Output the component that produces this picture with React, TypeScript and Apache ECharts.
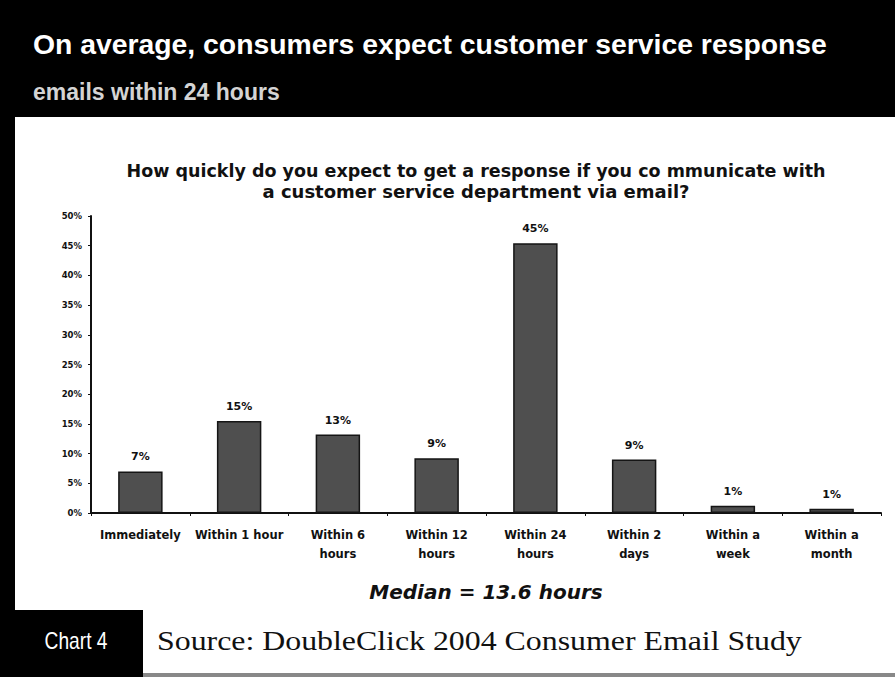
import React, { useEffect, useRef } from "react";
import * as echarts from "echarts";

const categories = [
  "Immediately",
  "Within 1 hour",
  "Within 6\nhours",
  "Within 12\nhours",
  "Within 24\nhours",
  "Within 2\ndays",
  "Within a\nweek",
  "Within a\nmonth",
];
const values = [7, 15, 13, 9, 45, 9, 1, 1];
const barHeights = [7, 15.5, 13.2, 9.2, 45.4, 9, 1.2, 0.7];
const yTicks = { min: 0, max: 50, interval: 5 };

const headline1 = "On average, consumers expect customer service response";
const headline2 = "emails within 24 hours";
const question1 = "How quickly do you expect to get a response if you co mmunicate with";
const question2 = "a customer service department via email?";
const medianText = "Median = 13.6 hours";
const chartTag = "Chart 4";
const sourceText = "Source: DoubleClick 2004 Consumer Email Study";

export default function App() {
  const ref = useRef<HTMLDivElement>(null);
  useEffect(() => {
    if (!ref.current) return;
    const chart = echarts.init(ref.current, null, { renderer: "svg" });
    const sans = "Liberation Sans, Arial, sans-serif";
    const heavy = "'DejaVu Sans', Verdana, sans-serif";
    chart.setOption({
      animation: false,
      backgroundColor: "#ffffff",
      grid: { left: 91, right: 14, top: 216, bottom: 164, containLabel: false },
      xAxis: {
        type: "category",
        data: categories,
        boundaryGap: true,
        axisLine: { lineStyle: { color: "#111", width: 2 } },
        axisTick: { show: true, length: 3, lineStyle: { color: "#111" } },
        axisLabel: {
          color: "#111",
          fontFamily: heavy,
          fontWeight: "bold",
          fontSize: 11.5,
          lineHeight: 19,
          margin: 12,
          interval: 0,
        },
      },
      yAxis: {
        type: "value",
        min: yTicks.min,
        max: yTicks.max,
        interval: yTicks.interval,
        splitLine: { show: false },
        axisLine: { show: true, lineStyle: { color: "#111", width: 2 } },
        axisTick: { show: true, length: 3, lineStyle: { color: "#111" } },
        axisLabel: {
          formatter: "{value}%",
          color: "#111",
          fontFamily: heavy,
          fontWeight: "bold",
          fontSize: 8.5,
          margin: 9,
        },
      },
      series: [
        {
          type: "bar",
          data: barHeights.map((h, i) => ({ value: h, label: { formatter: values[i] + "%" } })),
          barWidth: "45%",
          itemStyle: { color: "#4f4f4f", borderColor: "#151515", borderWidth: 1.5 },
          label: {
            show: true,
            position: "top",
            distance: 9,
            color: "#111",
            fontFamily: heavy,
            fontWeight: "bold",
            fontSize: 11,
          },
        },
      ],
      graphic: [
        { type: "rect", shape: { x: 0, y: 0, width: 895, height: 117 }, style: { fill: "#000" } },
        { type: "rect", shape: { x: 0, y: 117, width: 15, height: 560 }, style: { fill: "#000" } },
        { type: "rect", shape: { x: 0, y: 610, width: 143, height: 67 }, style: { fill: "#000" } },
        { type: "rect", shape: { x: 143, y: 673, width: 752, height: 4 }, style: { fill: "#888" } },
        {
          type: "text",
          x: 33,
          y: 45,
          scaleX: 1.05,
          style: {
            text: headline1,
            fill: "#ffffff",
            font: "bold 27px " + sans,
            textVerticalAlign: "middle",
          },
        },
        {
          type: "text",
          x: 33,
          y: 92,
          style: {
            text: headline2,
            fill: "#d4d4d4",
            font: "bold 23px " + sans,
            textVerticalAlign: "middle",
          },
        },
        {
          type: "text",
          x: 476,
          y: 171,
          style: {
            text: question1,
            fill: "#111",
            font: "bold 17.5px " + heavy,
            textAlign: "center",
            textVerticalAlign: "middle",
          },
        },
        {
          type: "text",
          x: 476,
          y: 191,
          style: {
            text: question2,
            fill: "#111",
            font: "bold 18px " + heavy,
            textAlign: "center",
            textVerticalAlign: "middle",
          },
        },
        {
          type: "text",
          x: 486,
          y: 592,
          style: {
            text: medianText,
            fill: "#111",
            font: "italic bold 20px " + heavy,
            textAlign: "center",
            textVerticalAlign: "middle",
          },
        },
        {
          type: "text",
          x: 76,
          y: 641,
          scaleX: 0.8,
          style: {
            text: chartTag,
            fill: "#ffffff",
            font: "24px " + sans,
            textAlign: "center",
            textVerticalAlign: "middle",
          },
        },
        {
          type: "text",
          x: 157,
          y: 641,
          scaleX: 1.18,
          style: {
            text: sourceText,
            fill: "#111",
            font: "27px 'Liberation Serif', 'Times New Roman', serif",
            textVerticalAlign: "middle",
          },
        },
      ],
    });
    return () => chart.dispose();
  }, []);
  return (
    <div
      ref={ref}
      style={{ position: "fixed", left: 0, top: 0, width: 895, height: 677 }}
    />
  );
}
